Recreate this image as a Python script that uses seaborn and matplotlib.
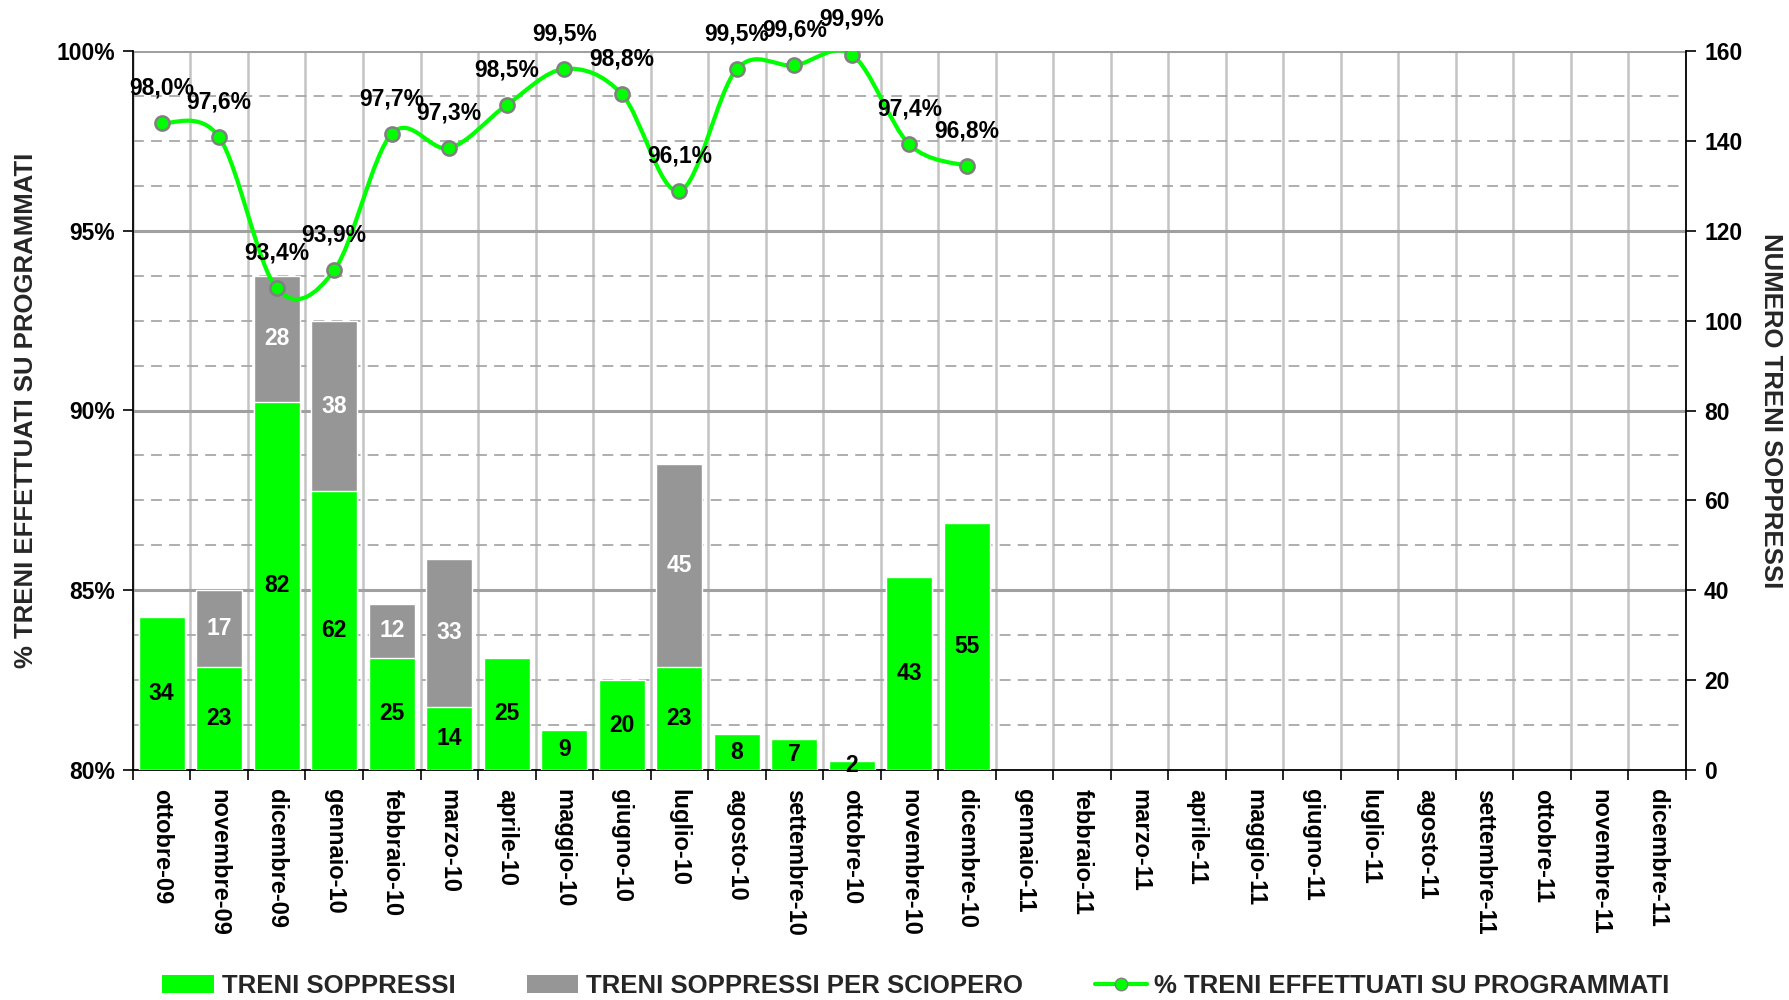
import numpy as np
import pandas as pd
import matplotlib
matplotlib.use("Agg")
import matplotlib.pyplot as plt
from matplotlib.path import Path
from matplotlib.patches import PathPatch, Patch
from matplotlib.lines import Line2D
import seaborn as sns

# ---------------- data ----------------
months = ["ottobre-09", "novembre-09", "dicembre-09", "gennaio-10", "febbraio-10",
          "marzo-10", "aprile-10", "maggio-10", "giugno-10", "luglio-10", "agosto-10",
          "settembre-10", "ottobre-10", "novembre-10", "dicembre-10", "gennaio-11",
          "febbraio-11", "marzo-11", "aprile-11", "maggio-11", "giugno-11", "luglio-11",
          "agosto-11", "settembre-11", "ottobre-11", "novembre-11", "dicembre-11"]
soppressi = [34, 23, 82, 62, 25, 14, 25, 9, 20, 23, 8, 7, 2, 43, 55]
sciopero = [0, 17, 28, 38, 12, 33, 0, 0, 0, 45, 0, 0, 0, 0, 0]
pct_effettuati = [98.0, 97.6, 93.4, 93.9, 97.7, 97.3, 98.5, 99.5, 98.8, 96.1,
                  99.5, 99.6, 99.9, 97.4, 96.8]
left_ticks = [80, 85, 90, 95, 100]
right_ticks = [0, 20, 40, 60, 80, 100, 120, 140, 160]

legend_labels = ["TRENI SOPPRESSI", "TRENI SOPPRESSI PER SCIOPERO",
                 "% TRENI EFFETTUATI SU PROGRAMMATI"]

GREEN = "#00FF00"
GRAY = "#969696"
EDGE = "#808080"

sns.set_theme(style="white")
plt.rcParams["font.family"] = ["Liberation Sans", "DejaVu Sans"]
plt.rcParams["font.weight"] = "bold"

fig = plt.figure(figsize=(17.89, 10), dpi=100)
ax = fig.add_axes([0.0743, 0.23, 0.9424 - 0.0743, 0.949 - 0.23])

n = len(soppressi)
df = pd.DataFrame({"mese": months[:n], "soppressi": soppressi, "sciopero": sciopero})
df["totale"] = df["soppressi"] + df["sciopero"]

sns.barplot(data=df, x="mese", y="totale", order=months, color=GRAY, saturation=1,
            width=0.8, errorbar=None, ax=ax, zorder=2)
sns.barplot(data=df, x="mese", y="soppressi", order=months, color=GREEN, saturation=1,
            width=0.8, errorbar=None, ax=ax, zorder=3)

# bar labels
for i, (g, s) in enumerate(zip(soppressi, sciopero)):
    ax.text(i, g / 2, str(g), ha="center", va="center", fontsize=16.5,
            fontweight="bold", color="black", zorder=6)
    if s > 0:
        ax.text(i, g + s / 2, str(s), ha="center", va="center", fontsize=16.5,
                fontweight="bold", color="white", zorder=6)

ax.set_ylim(0, 160)
ax.set_xlabel("")

# horizontal grid (solid every 40, dashed every 10)
for yv in range(10, 161, 10):
    if yv % 40 == 0:
        ax.axhline(yv, color="#A0A0A0", lw=2.2, zorder=1)
    else:
        ax.axhline(yv, color="#A8A8A8", lw=1.3, ls=(0, (6, 4)), zorder=1)

# x axis: labels at centers, ticks/grid at boundaries
ax.set_xticks(range(len(months)))
ax.set_xticklabels(months, rotation=-90, fontsize=17, fontweight="bold")
ax.set_xticks(np.arange(-0.5, len(months), 1.0), minor=True)
ax.tick_params(axis="x", which="major", length=0, pad=14, colors="black")
ax.tick_params(axis="x", which="minor", length=7, width=1.2, direction="out",
               bottom=True, color="black")
ax.xaxis.grid(True, which="minor", color="#C4C4C4", lw=1.8)
ax.set_axisbelow(True)

ax.spines["top"].set_visible(False)
for side in ["left", "right", "bottom"]:
    ax.spines[side].set_visible(True)
    ax.spines[side].set_color("black")
    ax.spines[side].set_linewidth(1.3)

# ---------------- line axis ----------------
ax2 = ax.twinx()
# bars axis on the right, line axis on the left
ax.yaxis.tick_right()
ax.yaxis.set_label_position("right")
ax.set_yticks(right_ticks)
ax.set_yticklabels([str(v) for v in right_ticks])
ax.tick_params(axis="y", which="major", right=True, left=False, labelright=True,
               labelleft=False, length=7, width=1.2, direction="out", labelsize=16.5,
               color="black", labelcolor="black", pad=6)
ax.set_ylabel("NUMERO TRENI SOPPRESSI", rotation=-90, va="bottom", fontsize=18.5,
              fontweight="bold", labelpad=12)

ax2.yaxis.tick_left()
ax2.yaxis.set_label_position("left")
ax2.set_ylim(80, 100)
ax2.set_yticks(left_ticks)
ax2.set_yticklabels([f"{v}%" for v in left_ticks])
ax2.tick_params(axis="y", left=True, right=False, labelleft=True, labelright=False,
                length=7, width=1.2, direction="out", labelsize=16.5, color="black",
                labelcolor="black", pad=6)
for side in ax2.spines:
    ax2.spines[side].set_visible(False)
ax2.grid(False)

x = np.arange(n, dtype=float)
y = np.array(pct_effettuati, dtype=float)
verts = [(x[0], y[0])]
codes = [Path.MOVETO]
for i in range(n - 1):
    p0 = (x[i - 1], y[i - 1]) if i > 0 else (x[i], y[i])
    p3 = (x[i + 2], y[i + 2]) if i + 2 < n else (x[i + 1], y[i + 1])
    c1 = (x[i] + (x[i + 1] - p0[0]) / 6, y[i] + (y[i + 1] - p0[1]) / 6)
    c2 = (x[i + 1] - (p3[0] - x[i]) / 6, y[i + 1] - (p3[1] - y[i]) / 6)
    verts += [c1, c2, (x[i + 1], y[i + 1])]
    codes += [Path.CURVE4] * 3
ax2.add_patch(PathPatch(Path(verts, codes), facecolor="none", edgecolor=GREEN,
                        lw=3, zorder=4, capstyle="round", joinstyle="round"))
sns.scatterplot(x=x, y=y, ax=ax2, color=GREEN, edgecolor=EDGE, linewidth=1.8, s=105,
                zorder=5, legend=False)
for i, v in enumerate(pct_effettuati):
    ax2.annotate(f"{v:.1f}%".replace(".", ","), (i, v), xytext=(0, 17),
                 textcoords="offset points", ha="center", va="bottom", fontsize=16.5,
                 fontweight="bold", color="black", zorder=6)
ax2.set_ylabel("% TRENI EFFETTUATI SU PROGRAMMATI", fontsize=18.5, fontweight="bold",
               labelpad=13)
ax2.set_xlabel("")
ax.set_xlim(-0.5, len(months) - 0.5)

# ---------------- legend ----------------
handles = [Patch(facecolor=GREEN, edgecolor="none"),
           Patch(facecolor=GRAY, edgecolor="none"),
           Line2D([], [], color=GREEN, lw=3, marker="o", markerfacecolor=GREEN,
                  markeredgecolor=EDGE, markersize=9)]
fig.legend(handles, legend_labels, loc="center", bbox_to_anchor=(0.512, 0.014), ncol=3,
           frameon=False, fontsize=18.5, handlelength=2.0, handletextpad=0.3,
           columnspacing=2.8, borderaxespad=0)

fig.savefig("out.png", dpi=100)
